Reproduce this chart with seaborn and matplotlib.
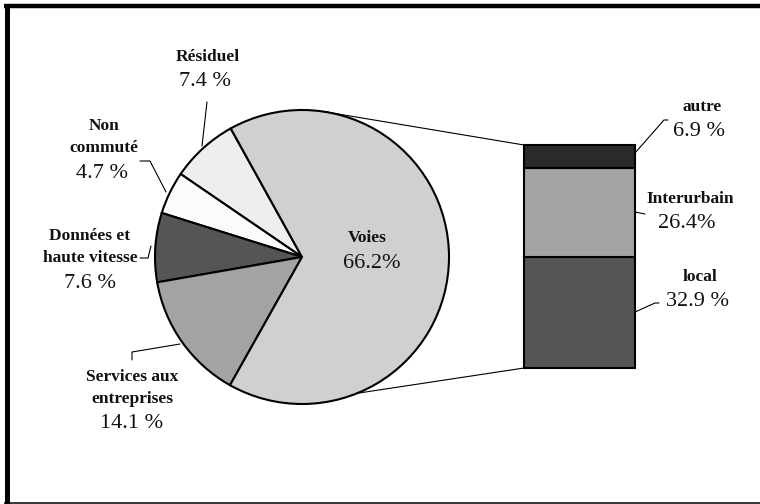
import matplotlib
matplotlib.use("Agg")
import matplotlib.pyplot as plt
from matplotlib.patches import ConnectionPatch
import numpy as np
import seaborn as sns

# Parts des revenus par service
segments = ["Résiduel", "Non\ncommuté", "Données et\nhaute vitesse", "Services aux\nentreprises", "Voies"]
shares = [7.4, 4.7, 7.6, 14.1, 66.2]
share_labels = ["7.4 %", "4.7 %", "7.6 %", "14.1 %", "66.2%"]
pie_colors = ["#eeeeee", "#fbfbfb", "#555555", "#a3a3a3", "#d0d0d0"]

# Détail de "Voies"
voice_parts = ["local", "Interurbain", "autre"]
voice_shares = [32.9, 26.4, 6.9]
voice_labels = ["32.9 %", "26.4%", "6.9 %"]
bar_colors = ["#555555", "#a3a3a3", "#2a2a2a"]

sns.set_theme(style="white")
plt.rcParams['font.family'] = ['Liberation Serif', 'DejaVu Serif']

W, H = 760, 504
def py(y):
    # pixel rows are counted from the top
    return H - y

fig = plt.figure(figsize=(7.6, 5.04), dpi=100)
ax = fig.add_axes([0, 0, 1, 1])

cx, cy, r = 302, py(257), 147
ax.pie(shares, colors=pie_colors, startangle=119, counterclock=True,
       center=(cx, cy), radius=r,
       wedgeprops=dict(edgecolor="black", linewidth=1.5))
ax.set_xlim(0, W)
ax.set_ylim(0, H)
ax.set_aspect("equal")
ax.axis("off")

# label placement (x of name, x of share, row of share)
pie_label_pos = [(208, 205, 82), (104, 102, 173), (90, 90, 283), (132, 132, 424), (367, 372, 263)]
bar_label_pos = [(700, 697, 302), (690, 687, 224), (702, 699, 132)]

def put_label(name, pct, pos):
    xn, xp, yp = pos
    lines = name.split("\n")
    for i, line in enumerate(lines):
        yl = yp - 25 - 22 * (len(lines) - 1 - i)
        ax.text(xn, py(yl), line, ha="center", va="center", fontsize=12.5,
                fontweight="bold", color="#111111")
    ax.text(xp, py(yp), pct, ha="center", va="center", fontsize=16, color="#111111")

for name, pct, pos in zip(segments, share_labels, pie_label_pos):
    put_label(name, pct, pos)
for name, pct, pos in zip(voice_parts, voice_labels, bar_label_pos):
    put_label(name, pct, pos)

# leader lines
leaders = [
    [(207, 102), (202, 146)],
    [(140, 161), (150, 161), (166, 192)],
    [(140, 258), (148, 258), (151, 246)],
    [(132, 360), (132, 352), (180, 344)],
    [(635, 153), (664, 120), (668, 120)],
    [(635, 212), (645, 214)],
    [(635, 312), (655, 303), (659, 303)],
]
for pts in leaders:
    xs = [p[0] for p in pts]
    ys = [py(p[1]) for p in pts]
    ax.plot(xs, ys, color="black", linewidth=0.8, clip_on=False)

# stacked bar for the breakdown of Voies
bx0, bx1, by0, by1 = 524, 635, 145, 368
ax2 = fig.add_axes([bx0 / W, py(by1) / H, (bx1 - bx0) / W, (by1 - by0) / H])
bottom = 0
for val, col in zip(voice_shares, bar_colors):
    ax2.bar(0, val, bottom=bottom, width=1, color=col, edgecolor="black",
            linewidth=1.5, clip_on=False)
    bottom += val
ax2.set_xlim(-0.5, 0.5)
ax2.set_ylim(0, sum(voice_shares))
ax2.axis("off")

# lines joining the pie to the bar
for ang, yb in [(81, sum(voice_shares)), (-68, 0)]:
    a = np.deg2rad(ang)
    con = ConnectionPatch(xyA=(-0.5, yb), coordsA=ax2.transData,
                          xyB=(cx + r * np.cos(a), cy + r * np.sin(a)), coordsB=ax.transData,
                          color="black", linewidth=0.8)
    fig.add_artist(con)

# frame around the figure
frame = dict(color="black", clip_on=False, solid_capstyle="butt")
ax.plot([6.5, 6.5], [py(4), py(504)], linewidth=3.6, **frame)
ax.plot([4, 760], [py(6.3), py(6.3)], linewidth=3.2, **frame)
ax.plot([4, 760], [py(502.5), py(502.5)], linewidth=1.1, **frame)

fig.savefig("out.png", dpi=100)
